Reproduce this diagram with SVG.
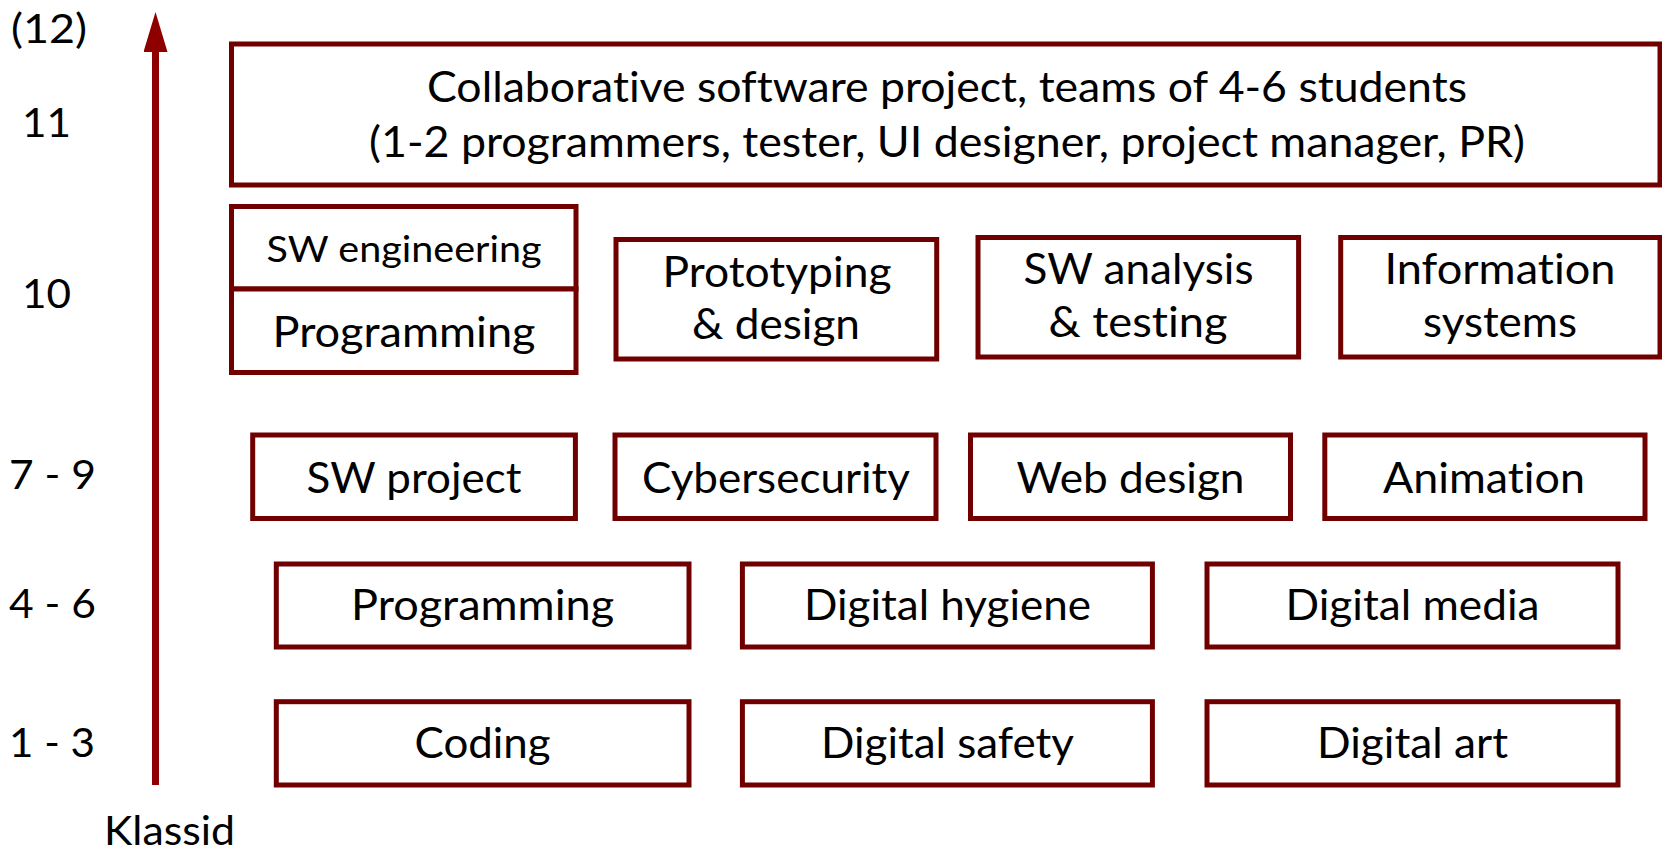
<svg xmlns="http://www.w3.org/2000/svg" width="1662" height="851" viewBox="0 0 1662 851">
  <style>
    .box { fill: #ffffff; stroke: #700000; stroke-width: 5; }
    .t { font-family: Lato, "Open Sans", "Liberation Sans", sans-serif; font-size: 42px; fill: #000000; text-anchor: middle; font-variant-ligatures: none; }
    .s { font-size: 37px; }
    .lbl { font-family: Lato, "Open Sans", "Liberation Sans", sans-serif; font-size: 41px; fill: #000000; font-variant-ligatures: none; }
  </style>
  <defs>
    <marker id="head" markerUnits="userSpaceOnUse" markerWidth="40" markerHeight="24" refX="1" refY="12" orient="auto">
      <path d="M0,0 L40,12 L0,24 z" fill="#8e0000"/>
    </marker>
  </defs>
  <rect width="1662" height="851" fill="#ffffff"/>

  <!-- grade axis -->
  <g id="connectors">
    <line x1="155.5" y1="785" x2="155.5" y2="51" stroke="#8e0000" stroke-width="7" marker-end="url(#head)"/>
  </g>

  <!-- grade labels -->
  <g id="grades">
    <text class="lbl" x="11" y="42.5" textLength="76" lengthAdjust="spacingAndGlyphs">(12)</text>
    <text class="lbl" x="22" y="136.7" textLength="49" lengthAdjust="spacingAndGlyphs">11</text>
    <text class="lbl" x="22" y="308" textLength="49" lengthAdjust="spacingAndGlyphs">10</text>
    <text class="lbl" x="9" y="489.3" textLength="87" lengthAdjust="spacingAndGlyphs">7 - 9</text>
    <text class="lbl" x="9" y="618.3" textLength="87" lengthAdjust="spacingAndGlyphs">4 - 6</text>
    <text class="lbl" x="9" y="756.7" textLength="86" lengthAdjust="spacingAndGlyphs">1 - 3</text>
    <text class="lbl" x="104" y="845" textLength="131" lengthAdjust="spacingAndGlyphs">Klassid</text>
  </g>

  <!-- grade 11 -->
  <g id="collab-project">
    <rect class="box" x="231.5" y="44" width="1428.5" height="141"/>
    <text class="t" x="947" y="101.5" textLength="1040" lengthAdjust="spacingAndGlyphs">Collaborative software project, teams of 4-6 students</text>
    <text class="t" x="947" y="156.5" textLength="1156" lengthAdjust="spacingAndGlyphs">(1-2 programmers, tester, UI designer, project manager, PR)</text>
  </g>

  <!-- grade 10 -->
  <g id="sw-engineering">
    <rect class="box" x="231.5" y="206.5" width="344.5" height="82.5"/>
    <text class="t s" x="404" y="261.5" textLength="275" lengthAdjust="spacingAndGlyphs">SW engineering</text>
  </g>
  <g id="programming-10">
    <rect class="box" x="231.5" y="289" width="344.5" height="83.5"/>
    <text class="t" x="404" y="346.5" textLength="263" lengthAdjust="spacingAndGlyphs">Programming</text>
  </g>
  <g id="prototyping">
    <rect class="box" x="616" y="239.5" width="320.7" height="119.5"/>
    <text class="t" x="777" y="286.5" textLength="229" lengthAdjust="spacingAndGlyphs">Prototyping</text>
    <text class="t" x="776" y="339" textLength="168" lengthAdjust="spacingAndGlyphs">&amp; design</text>
  </g>
  <g id="sw-analysis">
    <rect class="box" x="978" y="237.5" width="320.6" height="119.5"/>
    <text class="t" x="1138.5" y="284" textLength="230" lengthAdjust="spacingAndGlyphs">SW analysis</text>
    <text class="t" x="1138" y="336.5" textLength="179" lengthAdjust="spacingAndGlyphs">&amp; testing</text>
  </g>
  <g id="information-systems">
    <rect class="box" x="1340.7" y="237.5" width="319.3" height="119.5"/>
    <text class="t" x="1500" y="284" textLength="231" lengthAdjust="spacingAndGlyphs">Information</text>
    <text class="t" x="1500" y="336.5" textLength="154" lengthAdjust="spacingAndGlyphs">systems</text>
  </g>

  <!-- grades 7 - 9 -->
  <g id="sw-project">
    <rect class="box" x="252.7" y="435" width="322.7" height="83.5"/>
    <text class="t" x="414" y="492.5" textLength="215" lengthAdjust="spacingAndGlyphs">SW project</text>
  </g>
  <g id="cybersecurity">
    <rect class="box" x="615" y="435" width="321" height="83.5"/>
    <text class="t" x="776" y="492.5" textLength="268" lengthAdjust="spacingAndGlyphs">Cybersecurity</text>
  </g>
  <g id="web-design">
    <rect class="box" x="970.5" y="435" width="320" height="83.5"/>
    <text class="t" x="1130.5" y="492.5" textLength="228" lengthAdjust="spacingAndGlyphs">Web design</text>
  </g>
  <g id="animation">
    <rect class="box" x="1324.8" y="435" width="320.2" height="83.5"/>
    <text class="t" x="1484" y="492.5" textLength="202" lengthAdjust="spacingAndGlyphs">Animation</text>
  </g>

  <!-- grades 4 - 6 -->
  <g id="programming-4-6">
    <rect class="box" x="276.3" y="564" width="412.7" height="83"/>
    <text class="t" x="482.6" y="620" textLength="263" lengthAdjust="spacingAndGlyphs">Programming</text>
  </g>
  <g id="digital-hygiene">
    <rect class="box" x="742.4" y="564" width="410" height="83"/>
    <text class="t" x="947.5" y="620" textLength="287" lengthAdjust="spacingAndGlyphs">Digital hygiene</text>
  </g>
  <g id="digital-media">
    <rect class="box" x="1207" y="564" width="411" height="83"/>
    <text class="t" x="1412.5" y="620" textLength="254" lengthAdjust="spacingAndGlyphs">Digital media</text>
  </g>

  <!-- grades 1 - 3 -->
  <g id="coding">
    <rect class="box" x="276.3" y="701.7" width="412.7" height="83.3"/>
    <text class="t" x="482.6" y="758" textLength="136" lengthAdjust="spacingAndGlyphs">Coding</text>
  </g>
  <g id="digital-safety">
    <rect class="box" x="742.4" y="701.7" width="410" height="83.3"/>
    <text class="t" x="947.5" y="758" textLength="253" lengthAdjust="spacingAndGlyphs">Digital safety</text>
  </g>
  <g id="digital-art">
    <rect class="box" x="1207" y="701.7" width="411" height="83.3"/>
    <text class="t" x="1412.5" y="758" textLength="191" lengthAdjust="spacingAndGlyphs">Digital art</text>
  </g>
</svg>
